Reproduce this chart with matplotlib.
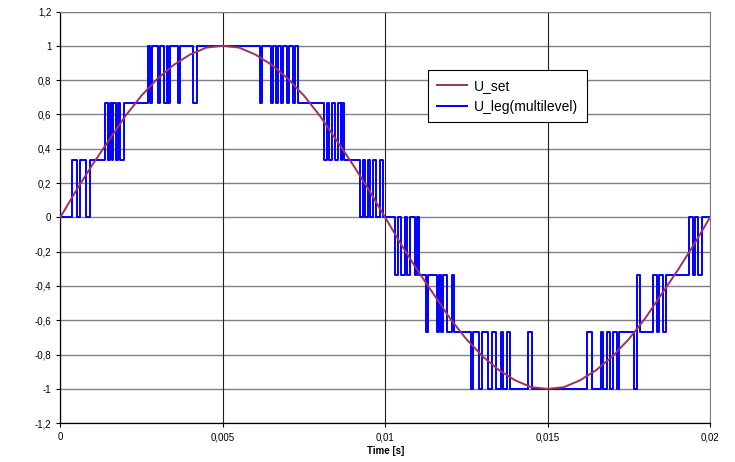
import matplotlib.pyplot as plt
import numpy as np

plt.rcParams['font.family'] = ['Liberation Sans', 'DejaVu Sans']

# U_set, lu toutes les 0,5 ms (s)
set_t = [0.0, 0.0005, 0.001, 0.0015, 0.002, 0.0025, 0.003, 0.0035, 0.004, 0.0045,
         0.005, 0.0055, 0.006, 0.0065, 0.007, 0.0075, 0.008, 0.0085, 0.009, 0.0095,
         0.01, 0.0105, 0.011, 0.0115, 0.012, 0.0125, 0.013, 0.0135, 0.014, 0.0145,
         0.015, 0.0155, 0.016, 0.0165, 0.017, 0.0175, 0.018, 0.0185, 0.019, 0.0195, 0.02]
set_u = [0.0, 0.16, 0.31, 0.45, 0.59, 0.71, 0.81, 0.89, 0.95, 0.99,
         1.0, 0.99, 0.95, 0.89, 0.81, 0.71, 0.59, 0.45, 0.31, 0.16,
         0.0, -0.16, -0.31, -0.45, -0.59, -0.71, -0.81, -0.89, -0.95, -0.99,
         -1.0, -0.99, -0.95, -0.89, -0.81, -0.71, -0.59, -0.45, -0.31, -0.16, 0.0]

# U_leg : instants de commutation (ms) et niveau apres commutation (en tiers)
leg_t_ms = [0.0,
            0.372, 0.508, 0.609, 0.794, 0.917,
            1.379, 1.456, 1.517, 1.585, 1.634, 1.708, 1.770, 1.850, 1.973,
            2.693, 2.764, 2.835, 3.001, 3.072, 3.204, 3.278, 3.327, 3.389, 3.610, 3.687, 4.097, 4.201,
            6.134, 6.211, 6.473, 6.534, 6.627, 6.688, 6.781, 6.858, 6.965, 7.042, 7.150, 7.212, 7.328,
            8.104, 8.203, 8.283, 8.375, 8.458, 8.541, 8.633, 8.683, 8.735,
            9.227, 9.311, 9.381, 9.483, 9.535, 9.637, 9.711, 9.843, 9.945,
            10.305, 10.406, 10.480, 10.612, 10.665, 10.766, 10.920, 10.982, 11.053,
            11.259, 11.330, 11.588, 11.644, 11.711, 11.773, 11.896, 12.068, 12.130,
            12.635, 12.715, 12.899, 12.973, 13.176, 13.281, 13.413, 13.558, 13.613, 13.743, 13.844, 14.407, 14.512,
            16.224, 16.359, 16.636, 16.716, 16.821, 16.922, 17.024, 17.128, 17.208, 17.661, 17.762,
            17.846, 18.236, 18.359, 18.440, 18.562, 18.646,
            19.363, 19.468, 19.538, 19.640, 19.744,
            20.0]
leg_steps = [0,
             1, 0, 1, 0, 1,
             2, 1, 2, 1, 2, 1, 2, 1, 2,
             3, 2, 3, 2, 3, 2, 3, 2, 3, 2, 3, 2, 3,
             2, 3, 2, 3, 2, 3, 2, 3, 2, 3, 2, 3, 2,
             1, 2, 1, 2, 1, 2, 1, 2, 1,
             0, 1, 0, 1, 0, 1, 0, 1, 0,
             -1, 0, -1, 0, -1, 0, -1, 0, -1,
             -2, -1, -2, -1, -2, -1, -2, -1, -2,
             -3, -2, -3, -2, -3, -2, -3, -2, -3, -2, -3, -2, -3,
             -2, -3, -2, -3, -2, -3, -2, -3, -2, -3, -1,
             -2, -1, -2, -1, -2, -1,
             0, -1, 0, -1, 0,
             0]

x_ticks = [0, 0.005, 0.01, 0.015, 0.02]
x_labels = ['0', '0,005', '0,01', '0,015', '0,02']
y_ticks = [-1.2, -1.0, -0.8, -0.6, -0.4, -0.2, 0, 0.2, 0.4, 0.6, 0.8, 1.0, 1.2]
y_labels = ['-1,2', '-1', '-0,8', '-0,6', '-0,4', '-0,2', '0', '0,2', '0,4', '0,6', '0,8', '1', '1,2']

leg_t = np.array(leg_t_ms) / 1000.0
leg_u = np.array(leg_steps) / 3.0

fig = plt.figure(figsize=(7.35, 4.62), dpi=100)
ax = fig.add_axes([0.082, 0.084, 0.884, 0.891])

# Grille
for yv in y_ticks:
    ax.axhline(yv, color='#808080', linewidth=1.0, zorder=1)
for xv in x_ticks:
    ax.axvline(xv, color='#202020', linewidth=0.8, zorder=1)

ax.step(leg_t, leg_u, where='post', color='#0000FF', linewidth=1.4, label='U_leg(multilevel)', zorder=3)
ax.plot(set_t, set_u, color='#A0305E', linewidth=1.4, label='U_set', zorder=4)

ax.set_xlim(0, 0.02)
ax.set_ylim(-1.2, 1.2)
ax.set_xticks(x_ticks)
ax.set_xticklabels(x_labels, fontsize=7)
ax.set_yticks(y_ticks)
ax.set_yticklabels(y_labels, fontsize=7)
ax.tick_params(direction='out', length=3, width=0.8, colors='black')
ax.set_xlabel('Time [s]', fontsize=7, fontweight='bold', labelpad=3)

for side in ['top', 'right']:
    ax.spines[side].set_color('#808080')
for side in ['left', 'bottom']:
    ax.spines[side].set_color('black')
    ax.spines[side].set_linewidth(0.9)

handles, labels = ax.get_legend_handles_labels()
leg = ax.legend(handles[::-1], labels[::-1], loc='upper left', bbox_to_anchor=(0.556, 0.874),
                fontsize=10, frameon=True, fancybox=False, framealpha=1.0,
                edgecolor='black', borderpad=0.6, handlelength=2.2, handletextpad=0.5,
                labelspacing=0.5)
leg.get_frame().set_linewidth(0.8)

plt.savefig('out.png', dpi=100)
plt.close()
